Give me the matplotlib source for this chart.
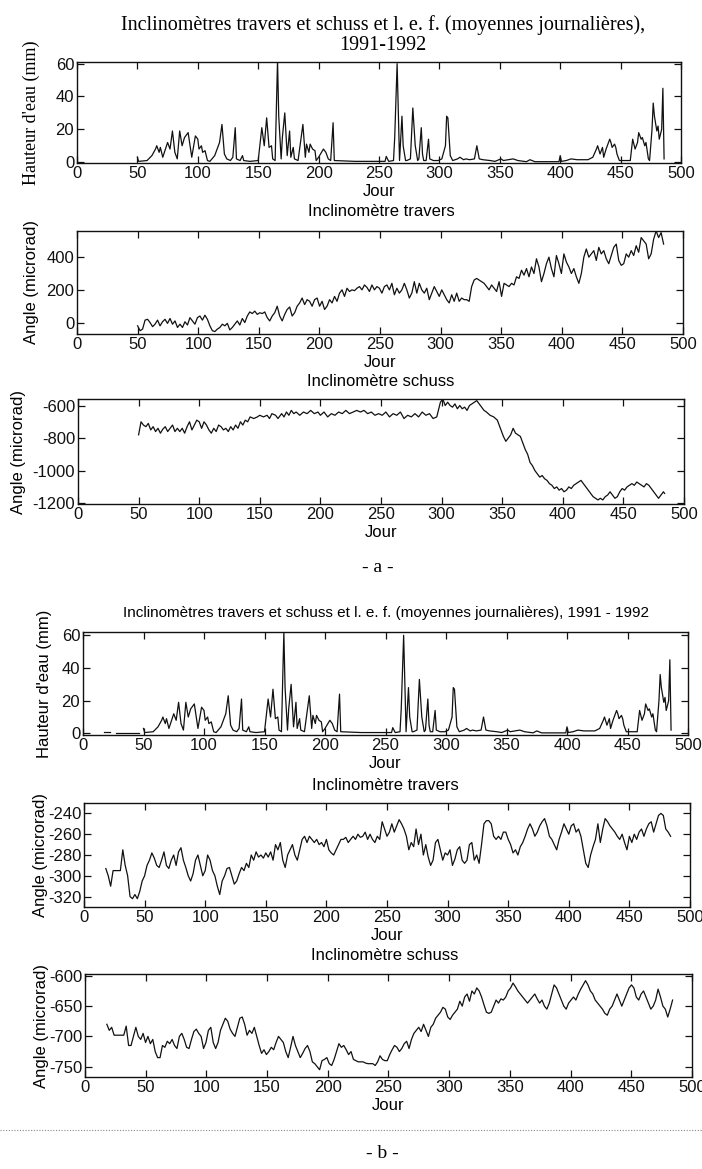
import numpy as np
import matplotlib
matplotlib.use("Agg")
import matplotlib.pyplot as plt
from matplotlib.lines import Line2D

plt.rcParams["axes.unicode_minus"] = False
SANS = ["Liberation Sans Narrow", "Liberation Sans", "DejaVu Sans"]
SERIF = ["Liberation Serif", "DejaVu Serif"]

# ---------------------------------------------------------------------------
# Data (daily means)
# ---------------------------------------------------------------------------
# lame d'eau ecoulee (mm), shared by panels a and b
rain_day = [50, 51, 55, 58, 62, 65, 66, 68, 69, 71,
            75, 77, 79, 81, 83, 85, 87, 89, 92, 94,
            95, 98, 100, 101, 103, 104, 106, 108, 110, 114,
            118, 120, 122, 124, 127, 129, 131, 132, 135, 137,
            138, 143, 150, 153, 155, 157, 159, 161, 162, 164,
            166, 167, 169, 170, 172, 174, 176, 177, 179, 180,
            183, 187, 189, 190, 192, 193, 195, 197, 198, 200,
            204, 206, 208, 210, 212, 213, 230, 250, 255, 256,
            258, 262, 263, 265, 266, 267, 269, 270, 272, 273,
            276, 278, 280, 282, 283, 285, 286, 287, 289, 291,
            292, 295, 299, 302, 305, 306, 307, 309, 311, 315,
            317, 320, 322, 325, 329, 331, 333, 336, 342, 346,
            351, 353, 357, 361, 365, 372, 375, 379, 399, 400,
            401, 405, 409, 414, 423, 427, 430, 431, 433, 435,
            436, 438, 441, 442, 443, 445, 446, 447, 449, 456,
            458, 460, 462, 464, 465, 467, 468, 470, 471, 473,
            474, 476, 477, 478, 480, 481, 482, 484, 485, 486]
rain_mm = [3, 0.5, 0.8, 1, 4, 8, 10, 6, 9, 3,
           12, 8, 19, 6, 2, 19, 10, 15, 18, 8,
           3, 16, 14, 8, 10, 6, 7, 1, 0.5, 4,
           12, 23, 5, 2, 1, 3, 21, 2, 1, 4,
           1, 0.5, 1, 21, 10, 27, 9, 10, 2, 1,
           62, 28, 2, 15, 30, 4, 19, 3, 9, 2,
           1, 23, 3, 11, 6, 11, 8, 7, 1, 3,
           8, 6, 2, 1, 24, 1, 0.5, 0.5, 0.5, 3.5,
           0.5, 1, 15, 60, 30, 1, 28, 10, 1, 1,
           2, 33, 10, 1, 2, 21, 5, 1, 1, 14,
           2, 1, 1, 2, 10, 28, 27, 4, 1, 2,
           3, 1.5, 2, 1.5, 2, 10, 2, 1.5, 1, 0.5,
           2, 1, 1.5, 2, 1, 0.3, 1.5, 0.3, 0.3, 4,
           0.5, 1, 2, 1.5, 1.5, 3, 8, 10, 5, 9,
           3, 8, 14, 12, 9, 11, 9, 5, 1, 1,
           1, 14, 8, 12, 18, 14, 15, 10, 12, 2,
           1, 20, 36, 28, 19, 22, 14, 20, 45, 2]
# short early record only present in panel b
rain_early_day = [17, 22, 23, 27, 46, 47]
rain_early_mm = [1.0, 1.0, np.nan, 0.2, 0.2, np.nan]

# inclinometre travers, panel a (microrad), read every ~2 days from day 50 to 484
trav_a = [-20, -50, -40, 15, 20, 0, -25, -10, 15, -20,
          5, 20, -5, 25, -10, 10, -30, -10, -30, 5,
          -15, 30, 10, -10, 30, 40, 15, 45, 20, -20,
          -50, -55, -40, -30, -10, -20, -5, -45, -30, -10,
          10, -15, 25, 0, 40, 65, 55, 70, 50, 60,
          55, 65, 30, 10, 40, 60, 100, 40, 10, 50,
          80, 95, 40, 60, 100, 120, 150, 110, 140, 130,
          100, 140, 150, 100, 130, 80, 100, 140, 120, 160,
          130, 180, 200, 160, 210, 190, 200, 195, 210, 220,
          200, 230, 215, 190, 230, 200, 220, 210, 180, 220,
          230, 200, 240, 170, 210, 180, 200, 240, 200, 150,
          180, 250, 180, 240, 200, 180, 210, 140, 180, 220,
          190, 160, 200, 170, 140, 120, 170, 130, 180, 130,
          150, 140, 140, 130, 220, 260, 270, 260, 250, 240,
          220, 200, 230, 210, 190, 250, 160, 240, 230, 220,
          240, 230, 280, 270, 320, 290, 330, 280, 340, 300,
          390, 340, 250, 300, 360, 400, 330, 280, 410, 360,
          300, 420, 370, 340, 300, 330, 280, 240, 300, 400,
          450, 400, 420, 440, 380, 460, 420, 440, 390, 360,
          410, 460, 480, 380, 350, 360, 420, 400, 440, 410,
          470, 430, 520, 500, 480, 390, 420, 510, 560, 520,
          550, 480]
trav_a_day = np.linspace(50, 484, len(trav_a))

# inclinometre schuss, panel a (microrad)
schu_a_day = [50, 51, 52, 54, 56, 58, 60, 62, 64, 66,
              68, 70, 72, 74, 76, 78, 80, 82, 84, 86,
              88, 90, 92, 94, 96, 98, 100, 102, 104, 106,
              108, 110, 112, 114, 116, 118, 120, 122, 124, 126,
              128, 130, 132, 134, 136, 138, 140, 142, 145, 148,
              150, 153, 156, 158, 160, 163, 165, 168, 170, 172,
              174, 176, 178, 180, 183, 186, 189, 192, 195, 198,
              200, 203, 206, 209, 212, 215, 218, 221, 224, 227,
              230, 233, 236, 239, 242, 245, 248, 251, 254, 257,
              260, 263, 266, 269, 272, 275, 278, 281, 284, 287,
              290, 293, 296, 297, 299, 301, 303, 305, 307, 309,
              311, 313, 315, 317, 319, 321, 323, 325, 327, 329,
              331, 333, 335, 337, 340, 343, 346, 349, 351, 353,
              355, 357, 359, 361, 363, 365, 367, 369, 371, 373,
              375, 377, 379, 381, 383, 385, 387, 389, 391, 393,
              395, 397, 399, 401, 403, 405, 407, 409, 411, 413,
              415, 417, 419, 421, 423, 425, 427, 429, 431, 433,
              435, 437, 439, 441, 443, 445, 447, 449, 451, 453,
              455, 457, 459, 461, 463, 465, 467, 469, 471, 473,
              475, 477, 479, 481, 483, 484]
schu_a = [-780, -740, -700, -720, -730, -710, -750, -730, -760, -740,
          -770, -745, -730, -760, -740, -720, -760, -740, -760, -740,
          -770, -730, -700, -750, -720, -690, -700, -740, -700, -720,
          -750, -770, -740, -760, -720, -730, -750, -740, -760, -730,
          -750, -720, -740, -700, -720, -690, -700, -670, -680, -670,
          -660, -670, -660, -680, -650, -660, -680, -650, -670, -640,
          -660, -630, -650, -640, -660, -640, -650, -630, -650, -640,
          -660, -640, -670, -650, -660, -640, -650, -630, -650, -640,
          -630, -640, -630, -650, -640, -660, -650, -660, -640, -670,
          -650, -660, -640, -680, -660, -670, -650, -670, -640, -660,
          -650, -680, -670, -640, -580, -560, -600, -580, -600, -610,
          -590, -620, -600, -620, -610, -630, -600, -590, -580, -570,
          -590, -610, -630, -640, -660, -670, -690, -750, -790, -820,
          -800, -780, -740, -770, -780, -790, -830, -870, -900, -950,
          -970, -1000, -1020, -1040, -1030, -1050, -1060, -1080, -1090, -1110,
          -1100, -1120, -1110, -1130, -1120, -1100, -1110, -1090, -1080, -1070,
          -1060, -1080, -1100, -1120, -1140, -1160, -1170, -1180, -1170, -1180,
          -1160, -1150, -1130, -1150, -1170, -1160, -1130, -1110, -1120, -1100,
          -1090, -1080, -1090, -1070, -1080, -1090, -1100, -1080, -1090, -1110,
          -1130, -1150, -1170, -1150, -1130, -1140]

# inclinometre travers, panel b (microrad), read every ~2 days from day 18 to 484
trav_b = [-293, -300, -310, -295, -295, -295, -295, -275, -290, -300,
          -320, -322, -318, -322, -315, -305, -300, -290, -285, -278,
          -283, -290, -292, -285, -277, -290, -293, -285, -280, -290,
          -277, -273, -285, -292, -300, -305, -298, -285, -280, -290,
          -300, -295, -280, -285, -295, -300, -310, -318, -305, -300,
          -293, -292, -300, -308, -305, -298, -292, -295, -288, -292,
          -280, -285, -277, -282, -280, -283, -278, -282, -277, -285,
          -270, -275, -268, -285, -292, -280, -275, -270, -280, -285,
          -275, -265, -262, -268, -262, -265, -268, -265, -270, -268,
          -272, -265, -275, -278, -280, -275, -270, -265, -265, -263,
          -268, -265, -262, -265, -260, -263, -262, -258, -265, -260,
          -265, -268, -262, -265, -248, -255, -262, -258, -250, -258,
          -252, -246, -250, -255, -262, -275, -268, -272, -255, -270,
          -260, -280, -270, -282, -290, -285, -268, -265, -275, -285,
          -278, -280, -275, -290, -284, -275, -272, -285, -288, -285,
          -270,
          -268, -285, -280, -288, -270, -250, -247, -247, -250, -262,
          -265, -262, -265, -258, -258, -265, -270, -278, -275, -280,
          -272, -268, -262, -255, -250, -255, -262, -258, -252, -248,
          -245, -252, -262, -265, -270, -275, -265, -258, -250, -255,
          -260, -252, -250, -258, -255, -262, -275, -288, -292, -280,
          -272, -265, -250, -268, -255, -245, -248, -252, -255, -258,
          -262, -265, -260, -268, -275, -262, -268, -260, -265, -258,
          -255, -262, -255, -250, -248, -258, -250, -242, -240, -242,
          -255, -258, -262]
trav_b_day = np.linspace(18, 484, len(trav_b))

# inclinometre schuss, panel b (microrad), read every ~2 days from day 18 to 484
schu_b = [-680, -690, -685, -698, -698, -698, -698, -698,
          -683, -715, -715, -700, -685, -700, -705, -695, -710, -700,
          -712, -705, -725, -735, -735, -715, -718, -708, -712, -705,
          -715, -720, -700, -695, -705, -718, -720, -705, -692, -688,
          -695, -700, -720, -710, -690, -685, -710, -720, -710, -690,
          -680, -670, -675, -688, -695, -700, -685, -670, -668, -680,
          -698, -690, -695, -685, -700, -715, -728, -722, -730, -725,
          -718, -722, -710, -700, -705, -710, -725, -735, -718, -700,
          -715, -725, -735, -728, -720, -715, -725, -742, -745, -750,
          -755, -740, -738, -735, -745, -748, -738, -725, -712, -718,
          -715, -722, -730, -725, -738, -740, -742, -742, -742, -744,
          -745, -745, -745, -748, -742, -732, -738, -740, -740, -730,
          -722, -715, -718, -725, -720, -712, -708, -720, -705, -695,
          -690, -685, -692, -680, -690, -700, -685, -680, -670, -665,
          -660, -652, -655, -668, -672, -665, -660, -655, -642, -650,
          -635, -630, -642, -625, -630, -620, -625, -635, -648, -660,
          -662, -660, -650, -640, -645, -638, -640, -635, -625, -620,
          -612, -618, -625, -630, -635, -640, -645, -640, -635, -630,
          -638, -645, -640, -650, -655, -645, -630, -615, -620, -630,
          -640, -650, -655, -645, -640, -635, -640, -630, -622, -615,
          -608, -615, -625, -630, -640, -645, -650, -655, -662, -665,
          -655, -650, -640, -630, -640, -650, -640, -630, -620, -615,
          -620, -635, -640, -630, -625, -635, -645, -655, -650, -640,
          -622, -635, -650, -655, -668, -655, -640]
schu_b_day = np.linspace(18, 484, len(schu_b))

x_ticks = list(range(0, 501, 50))

# ---------------------------------------------------------------------------
W, H = 702, 1169
fig = plt.figure(figsize=(W / 100, H / 100), dpi=100)
fig.patch.set_facecolor("white")


def box(x0, y0, x1, y1):
    """pixel box (top-left origin) -> figure fraction rect"""
    return [x0 / W, 1 - y1 / H, (x1 - x0) / W, (y1 - y0) / H]


def ty(y):
    return 1 - y / H


def style(ax, ylim, yticks, ylabel, ylab_x, serif_ylabel=False):
    ax.set_xlim(0, 500)
    ax.set_ylim(*ylim)
    ax.set_xticks(x_ticks)
    ax.set_yticks(yticks)
    ax.tick_params(direction="in", top=True, right=True, length=5,
                   width=0.9, labelsize=12, pad=2, colors="#111111")
    for lbl in ax.get_xticklabels() + ax.get_yticklabels():
        lbl.set_family(SANS)
    for s in ax.spines.values():
        s.set_linewidth(1.0)
        s.set_color("#111111")
    ax.set_xlabel("Jour", family=SANS, fontsize=12, labelpad=2)
    fam = SERIF if serif_ylabel else SANS
    ax.set_ylabel(ylabel, family=fam, fontsize=13 if serif_ylabel else 12)
    ax.yaxis.set_label_coords(ylab_x, 0.5)


LW = 0.9
# ---- panel a ----
ax1 = fig.add_axes(box(77, 62, 681, 163))
ax1.plot(rain_day, rain_mm, color="#111111", lw=LW)
style(ax1, (-0.5, 61), [0, 20, 40, 60], "Hauteur d'eau (mm)", -0.062, serif_ylabel=True)

ax2 = fig.add_axes(box(77, 231, 683, 334))
ax2.plot(trav_a_day, trav_a, color="#111111", lw=LW)
style(ax2, (-70, 560), [0, 200, 400], "Angle (microrad)", -0.062)

ax3 = fig.add_axes(box(78, 399, 684, 504))
ax3.plot(schu_a_day, schu_a, color="#111111", lw=LW)
style(ax3, (-1205, -560), [-1200, -1000, -800, -600], "Angle (microrad)", -0.085)

fig.text(383 / W, ty(25), "Inclinomètres travers et schuss et l. e. f. (moyennes journalières),",
         family=SERIF, fontsize=14.5, ha="center", va="center")
fig.text(383 / W, ty(45), "1991-1992", family=SERIF, fontsize=14.5, ha="center", va="center")
fig.text(381 / W, ty(212), "Inclinomètre travers", family=SANS, fontsize=12, ha="center", va="center")
fig.text(381 / W, ty(382), "Inclinomètre schuss", family=SANS, fontsize=12, ha="center", va="center")
fig.text(378 / W, ty(568), "- a -", family=SERIF, fontsize=14, ha="center", va="center")

# ---- panel b ----
bx1 = fig.add_axes(box(83, 632, 688, 735))
bx1.plot(rain_early_day, rain_early_mm, color="#111111", lw=LW)
bx1.plot(rain_day, rain_mm, color="#111111", lw=LW)
style(bx1, (-1, 62), [0, 20, 40, 60], "Hauteur d'eau (mm)", -0.052)

bx2 = fig.add_axes(box(84, 803, 690, 907))
bx2.plot(trav_b_day, trav_b, color="#111111", lw=LW)
style(bx2, (-330, -230), [-320, -300, -280, -260, -240], "Angle (microrad)", -0.06)

bx3 = fig.add_axes(box(85, 974, 692, 1077))
bx3.plot(schu_b_day, schu_b, color="#111111", lw=LW)
style(bx3, (-767, -597), [-750, -700, -650, -600], "Angle (microrad)", -0.06)

fig.text(386 / W, ty(613), "Inclinomètres travers et schuss et l. e. f. (moyennes journalières), 1991 - 1992",
         family=SANS, fontsize=11, ha="center", va="center")
fig.text(385 / W, ty(785), "Inclinomètre travers", family=SANS, fontsize=12, ha="center", va="center")
fig.text(385 / W, ty(955), "Inclinomètre schuss", family=SANS, fontsize=12, ha="center", va="center")

fig.add_artist(Line2D([0, 1], [ty(1130), ty(1130)], transform=fig.transFigure,
                      color="#888888", lw=0.8, ls=(0, (1, 1.5))))
fig.text(382 / W, ty(1153), "- b -", family=SERIF, fontsize=14, ha="center", va="center")

fig.savefig("out.png", dpi=100)
